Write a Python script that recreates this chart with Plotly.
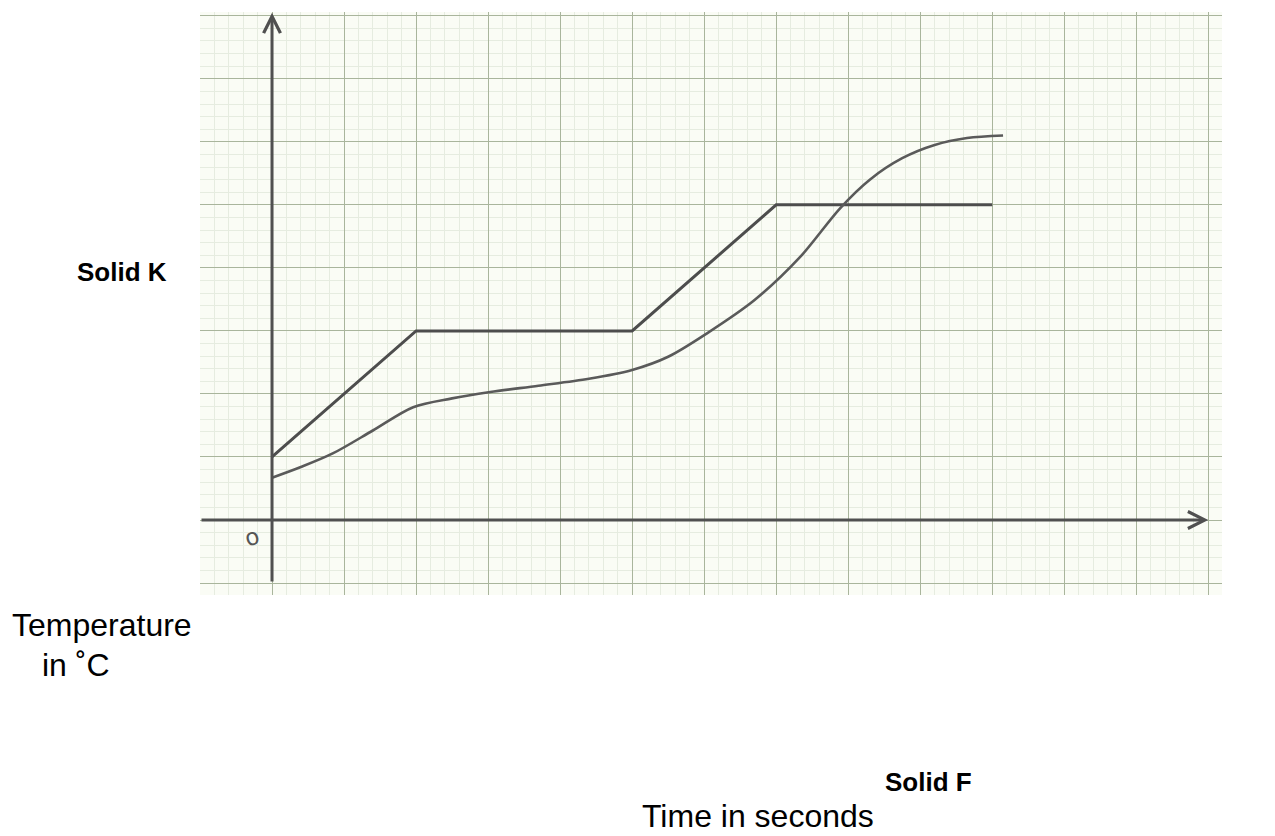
import plotly.graph_objects as go

# Solid K (straight segments)
time_k = [0, 2, 5, 7, 10]
temp_k = [1.0, 3.0, 3.0, 5.0, 5.0]

# Solid F (smooth curve)
time_f = [0, 0.4, 0.85, 1.4, 1.96, 2.5, 3.03, 3.7, 4.4, 5.0, 5.5, 6.05, 6.7,
          7.33, 7.89, 8.3, 8.75, 9.2, 9.65, 10.15]
temp_f = [0.67, 0.84, 1.06, 1.42, 1.79, 1.93, 2.03, 2.13, 2.24, 2.38, 2.59, 2.97,
          3.49, 4.17, 4.95, 5.4, 5.74, 5.95, 6.06, 6.1]

x_range = [-1.0, 13.19]
y_range = [-1.19, 8.06]

fig = go.Figure()
fig.add_trace(go.Scatter(x=time_k, y=temp_k, mode="lines",
                         line=dict(color="#4d4d4d", width=3), hoverinfo="skip"))
fig.add_trace(go.Scatter(x=time_f, y=temp_f, mode="lines",
                         line=dict(color="#5a5a5a", width=2.6, shape="spline", smoothing=0.9),
                         hoverinfo="skip"))

grid_major = "#a9b59c"
grid_minor = "#e6ece0"

fig.update_xaxes(range=x_range, showticklabels=False, zeroline=False, showline=False,
                 showgrid=True, dtick=1, tick0=0, gridcolor=grid_major, gridwidth=1.3,
                 minor=dict(dtick=0.2, showgrid=True, gridcolor=grid_minor, gridwidth=0.8),
                 fixedrange=True)
fig.update_yaxes(range=y_range, showticklabels=False, zeroline=False, showline=False,
                 showgrid=True, dtick=1, tick0=0, gridcolor=grid_major, gridwidth=1.3,
                 minor=dict(dtick=0.2, showgrid=True, gridcolor=grid_minor, gridwidth=0.8),
                 fixedrange=True)

axis_col = "#505050"
# Axes with open arrowheads
fig.add_annotation(x=13.0, y=0, ax=-1.0, ay=0, xref="x", yref="y", axref="x", ayref="y",
                   showarrow=True, arrowhead=5, arrowwidth=3, arrowsize=1.1,
                   arrowcolor=axis_col, text="")
fig.add_annotation(x=0, y=8.05, ax=0, ay=-1.0, xref="x", yref="y", axref="x", ayref="y",
                   showarrow=True, arrowhead=5, arrowwidth=3, arrowsize=1.1,
                   arrowcolor=axis_col, text="")
fig.add_annotation(x=-0.28, y=-0.27, xref="x", yref="y", text="o", showarrow=False,
                   textangle=-15,
                   font=dict(family="DejaVu Sans", size=23, color="#555555"))

font = "Liberation Sans, Arial, sans-serif"
# Page body has an 8px margin; plot area spans x 200-1222, y 12-595 px on screen
def px_to_paper(px, py):
    return (px - 200) / 1022, (595 - py) / 583

for text, px, py, bold, anchor in [
    ("Solid K", 122, 272, True, "center"),
    ("Temperature", 10, 625, False, "left"),
    ("in ˚C", 40, 665, False, "left"),
    ("Solid F", 928, 782, True, "center"),
    ("Time in seconds", 758, 816, False, "center"),
]:
    xp, yp = px_to_paper(px, py)
    fig.add_annotation(x=xp, y=yp, xref="paper", yref="paper", showarrow=False,
                       xanchor=anchor, yanchor="middle",
                       text=f"<b>{text}</b>" if bold else text,
                       font=dict(family=font, size=26 if bold else 32, color="#000000"))

fig.update_layout(width=1267, height=828, showlegend=False,
                  margin=dict(l=192, r=53, t=4, b=241),
                  plot_bgcolor="#fafcf5", paper_bgcolor="#ffffff")

fig.write_html("out.html")
